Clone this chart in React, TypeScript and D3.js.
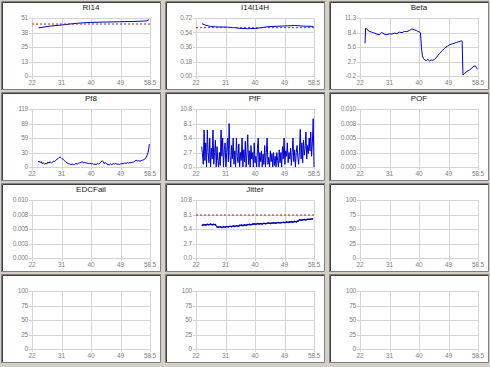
import React from "react";
import * as d3 from "d3";

const xDomain: [number, number] = [22, 58.5];
const xTickLabels = ["22", "31", "40", "49", "58.5"];

const ri14X = [24, 26, 28, 31, 34, 37, 40, 44, 49, 53, 56, 57.5, 58.2];
const ri14Y = [42.2, 43.2, 44, 44.8, 45.8, 46.6, 47.1, 47.4, 47.7, 47.9, 48.2, 48.5, 49.5];
const ri14Ref = 45.7;

const i14X = [23.9, 25, 26.5, 28, 31.7, 34, 35.9, 38, 40.5, 43, 45.2, 49, 52.5, 55, 58.3];
const i14Y = [0.649, 0.63, 0.615, 0.61, 0.607, 0.6, 0.59, 0.588, 0.59, 0.605, 0.615, 0.62, 0.627, 0.62, 0.615];
const i14Ref = 0.6;

const betaX = [23.55, 23.75, 24.2, 24.9, 25.6, 26.4, 27.2, 28.0, 28.4, 28.7, 29.5, 30.3, 31.1, 31.9, 32.6, 33.4, 34.2, 35.0, 35.75, 36.5, 37.3, 38.0, 38.9, 39.5, 39.9, 40.4, 40.7, 41.0, 41.3, 41.6, 42.0, 42.5, 43.0, 43.5, 44.0, 44.5, 45.1, 45.8, 46.6, 47.4, 48.2, 49.0, 49.7, 50.7, 51.8, 52.6, 53.3, 53.6, 53.85, 54.4, 55.1, 55.9, 56.5, 57.0, 57.7, 58.0, 58.3];
const betaY = [6.3, 9.3, 9.0, 8.64, 8.5, 8.3, 8.1, 7.97, 8.3, 8.44, 8.1, 8.0, 8.17, 8.1, 8.3, 8.2, 8.5, 8.4, 8.64, 8.6, 8.84, 9.1, 8.97, 8.8, 8.64, 8.5, 8.4, 5.5, 3.8, 3.3, 3.0, 2.85, 3.1, 2.8, 3.0, 2.9, 3.1, 3.6, 4.3, 4.8, 5.3, 5.7, 6.0, 6.2, 6.45, 6.6, 6.78, 6.65, 0.0, 0.33, 0.7, 1.0, 1.3, 1.66, 1.8, 1.5, 1.13];

const pf8X = [23.85, 24.2, 24.5, 24.8, 25.1, 25.5, 25.9, 26.3, 26.6, 26.9, 27.3, 27.6, 28.0, 28.4, 28.7, 29.0, 29.4, 29.7, 30.0, 30.3, 30.7, 31.0, 31.3, 31.6, 32.0, 32.4, 32.8, 33.2, 33.6, 34.0, 34.4, 34.8, 35.2, 35.6, 36.0, 36.4, 36.7, 37.1, 37.5, 37.9, 38.3, 38.7, 39.0, 39.4, 39.8, 40.3, 40.7, 41.1, 41.5, 41.8, 42.2, 42.6, 43.0, 43.4, 43.7, 44.0, 44.3, 44.7, 45.1, 45.5, 45.9, 46.3, 46.7, 47.1, 47.5, 47.9, 48.3, 48.7, 49.0, 49.4, 49.8, 50.2, 50.6, 51.1, 51.5, 51.9, 52.3, 52.6, 53.0, 53.4, 53.8, 54.2, 54.6, 55.0, 55.4, 55.8, 56.2, 56.6, 57.0, 57.3, 57.6, 57.9, 58.1, 58.3];
const pf8Y = [10, 12, 9, 11, 7, 9, 5.5, 8, 6, 10, 8, 11, 8, 10, 12, 11, 14, 16, 17, 19, 20.5, 19, 17, 16, 13, 11, 9, 7, 6.5, 5, 6, 5, 5.5, 7, 6, 8, 8.5, 9.5, 10.5, 9, 9.5, 8, 8.5, 7, 7.5, 6.5, 7, 5.5, 6, 5, 7, 6, 8, 10, 13, 11, 7, 9, 6, 5, 4.5, 6.5, 5, 7, 6, 7.5, 5.5, 6, 5, 6.5, 7, 6.5, 8, 7.5, 9, 8, 9, 8.5, 9.5, 10, 12, 14, 12.5, 13, 12, 13, 14, 15, 17, 20, 24, 30, 37, 47];

const pffStart = 23.75;
const pffStep = 0.25;
const pffY = [
  3.8, 2.5, 0.5, 6.9, 1.2, 4.5, 0, 6.9, 2.7, 0.8,
  5.4, 0, 3.5, 1.5, 6.9, 0.5, 2.7, 5.0, 0, 3.8,
  1.2, 0, 2.7, 0.3, 6.9, 2.0, 5.4, 0, 3.2, 4.5,
  0, 2.7, 5.4, 1.0, 8.1, 2.2, 0, 4.0, 1.5, 5.4,
  0.5, 3.0, 0, 5.4, 2.0, 0.8, 4.3, 0, 2.7, 1.2,
  5.4, 0, 3.2, 1.0, 4.8, 0, 2.5, 6.0, 0.5, 3.0,
  0, 4.0, 1.5, 2.7, 0, 4.5, 0.8, 2.0, 0, 3.5,
  5.4, 0, 2.7, 1.0, 3.0, 0, 2.4, 0.5, 4.0, 0,
  2.7, 5.4, 0.5, 1.8, 0, 3.0, 1.0, 2.5, 0, 2.7,
  0.3, 2.0, 0, 2.7, 1.2, 0, 3.2, 0.8, 2.7, 0,
  3.8, 1.5, 5.4, 0.5, 3.0, 2.0, 4.5, 0.8, 2.7, 1.5,
  3.5, 0.3, 2.7, 5.4, 1.0, 3.2, 0, 2.7, 4.0, 1.8,
  0.5, 3.0, 7.0, 1.5, 4.5, 0.8, 5.0, 2.2, 3.5, 6.5,
  1.5, 4.0, 2.5, 5.4, 3.0, 6.5, 2.0, 4.5, 9.0, 0,
];

const jitterStart = 24;
const jitterStep = 0.5;
const jitterY = [
  6.1, 6.2, 6.15, 6.25, 6.2, 6.3, 6.2, 6.25, 6.2, 5.8,
  5.75, 5.8, 5.7, 5.8, 5.75, 5.85, 5.8, 5.9, 5.85, 5.95,
  5.9, 6.0, 5.95, 6.05, 6.1, 6.05, 6.15, 6.1, 6.2, 6.25,
  6.2, 6.3, 6.35, 6.3, 6.4, 6.35, 6.4, 6.35, 6.45, 6.4,
  6.45, 6.5, 6.45, 6.5, 6.55, 6.5, 6.55, 6.6, 6.55, 6.6,
  6.65, 6.6, 6.7, 6.65, 6.7, 6.75, 6.7, 6.8, 6.75, 6.85,
  7.1, 7.05, 7.1, 7.15, 7.1, 7.2, 7.2, 7.25, 7.3,
];
const jitterRef = 8.0;

const labels051 = ["0", "13", "25", "38", "51"];
const labelsI14 = ["0.00", "0.18", "0.36", "0.54", "0.72"];
const labelsBeta = ["-0.2", "2.7", "5.6", "8.4", "11.3"];
const labelsPf8 = ["0", "30", "59", "89", "119"];
const labels108 = ["0.0", "2.7", "5.4", "8.1", "10.8"];
const labelsSmall = ["0.000", "0.003", "0.005", "0.008", "0.010"];
const labels100 = ["0", "25", "50", "75", "100"];

type Cfg = {
  title: string;
  yDomain: [number, number];
  yLabels: string[];
  xs?: number[];
  ys?: number[];
  refY?: number;
  dots?: boolean;
};

const zip = (xs: number[], ys: number[]) => ys.map((y, i) => [xs[i], y] as [number, number]);
const seq = (start: number, step: number, n: number) => d3.range(n).map((i) => start + i * step);

const panels: Cfg[] = [
  { title: "RI14", yDomain: [0, 51], yLabels: labels051, xs: ri14X, ys: ri14Y, refY: ri14Ref },
  { title: "I14I14H", yDomain: [0, 0.72], yLabels: labelsI14, xs: i14X, ys: i14Y, refY: i14Ref },
  { title: "Beta", yDomain: [-0.2, 11.3], yLabels: labelsBeta, xs: betaX, ys: betaY },
  { title: "Pf8", yDomain: [0, 119], yLabels: labelsPf8, xs: pf8X, ys: pf8Y },
  { title: "PfF", yDomain: [0, 10.8], yLabels: labels108, xs: seq(pffStart, pffStep, pffY.length), ys: pffY },
  { title: "POF", yDomain: [0, 0.01], yLabels: labelsSmall },
  { title: "EDCFail", yDomain: [0, 0.01], yLabels: labelsSmall },
  { title: "Jitter", yDomain: [0, 10.8], yLabels: labels108, xs: seq(jitterStart, jitterStep, jitterY.length), ys: jitterY, refY: jitterRef, dots: true },
  { title: "", yDomain: [0, 100], yLabels: labels100 },
  { title: "", yDomain: [0, 100], yLabels: labels100 },
  { title: "", yDomain: [0, 100], yLabels: labels100 },
  { title: "", yDomain: [0, 100], yLabels: labels100 },
];

const colX = [1, 165, 329];
const rowY = [1, 92, 183, 274];
const PW = 160;
const PH = 89;

const tickFont = "Liberation Sans, Arial, sans-serif";

function Panel({ cfg, x0, y0 }: { cfg: Cfg; x0: number; y0: number }) {
  const left = x0 + 31;
  const right = x0 + 149;
  const top = y0 + 17;
  const bottom = y0 + 75;
  const xs = d3.scaleLinear().domain(xDomain).range([left, right]);
  const ys = d3.scaleLinear().domain(cfg.yDomain).range([bottom, top]);
  const xTicks = d3.range(5).map((i) => xDomain[0] + (i * (xDomain[1] - xDomain[0])) / 4);
  const yTicks = d3.range(5).map((i) => cfg.yDomain[0] + (i * (cfg.yDomain[1] - cfg.yDomain[0])) / 4);
  const line = d3
    .line<[number, number]>()
    .x((d) => xs(d[0]))
    .y((d) => ys(d[1]));
  const data = cfg.xs && cfg.ys ? zip(cfg.xs, cfg.ys) : null;
  return (
    <g>
      <rect x={x0} y={y0} width={PW} height={PH} fill="#ffffff" />
      <path d={`M${x0 + 0.5},${y0 + PH}V${y0 + 0.5}H${x0 + PW}`} stroke="#808080" fill="none" />
      <path d={`M${x0 + 1.5},${y0 + PH - 1}V${y0 + 1.5}H${x0 + PW - 1}`} stroke="#404040" fill="none" />
      <path d={`M${x0 + 0.5},${y0 + PH - 0.5}H${x0 + PW - 0.5}V${y0 + 0.5}`} stroke="#808080" fill="none" />
      {xTicks.map((t, i) => (
        <line key={"gx" + i} x1={Math.round(xs(t)) + 0.5} x2={Math.round(xs(t)) + 0.5} y1={top} y2={bottom + 3} stroke="#d4d4d4" />
      ))}
      {yTicks.map((t, i) => (
        <line key={"gy" + i} x1={left - 3} x2={right} y1={Math.round(ys(t)) + 0.5} y2={Math.round(ys(t)) + 0.5} stroke="#d4d4d4" />
      ))}
      {xTicks.map((t, i) => (
        <text key={"tx" + i} x={xs(t)} y={bottom + 9} fontSize={6.5} fill="#808080" textAnchor="middle" fontFamily={tickFont} letterSpacing={-0.2}>
          {xTickLabels[i]}
        </text>
      ))}
      {yTicks.map((t, i) => (
        <text key={"ty" + i} x={left - 4} y={ys(t) + 2.3} fontSize={6.5} fill="#808080" textAnchor="end" fontFamily={tickFont} letterSpacing={-0.2}>
          {cfg.yLabels[i]}
        </text>
      ))}
      {cfg.title && (
        <text x={(left + right) / 2} y={y0 + 9} fontSize={8} fill="#202020" textAnchor="middle" fontFamily={tickFont}>
          {cfg.title}
        </text>
      )}
      {data && <path d={line(data) || ""} fill="none" stroke="#0000c8" strokeWidth={1} />}
      {data && cfg.dots &&
        data.map((d, i) => <circle key={"d" + i} cx={xs(d[0])} cy={ys(d[1])} r={0.9} fill="#0000a0" />)}
      {cfg.refY !== undefined && (
        <line x1={left} x2={right} y1={ys(cfg.refY)} y2={ys(cfg.refY)} stroke="#c02020" strokeDasharray="2,2" strokeWidth={1} />
      )}
    </g>
  );
}

export default function App() {
  return (
    <svg width={490} height={367} style={{ position: "absolute", left: 0, top: 0, display: "block" }}>
      <rect x={0} y={0} width={490} height={367} fill="#d4d0c8" />
      {panels.map((p, i) => (
        <Panel key={i} cfg={p} x0={colX[i % 3]} y0={rowY[Math.floor(i / 3)]} />
      ))}
    </svg>
  );
}
